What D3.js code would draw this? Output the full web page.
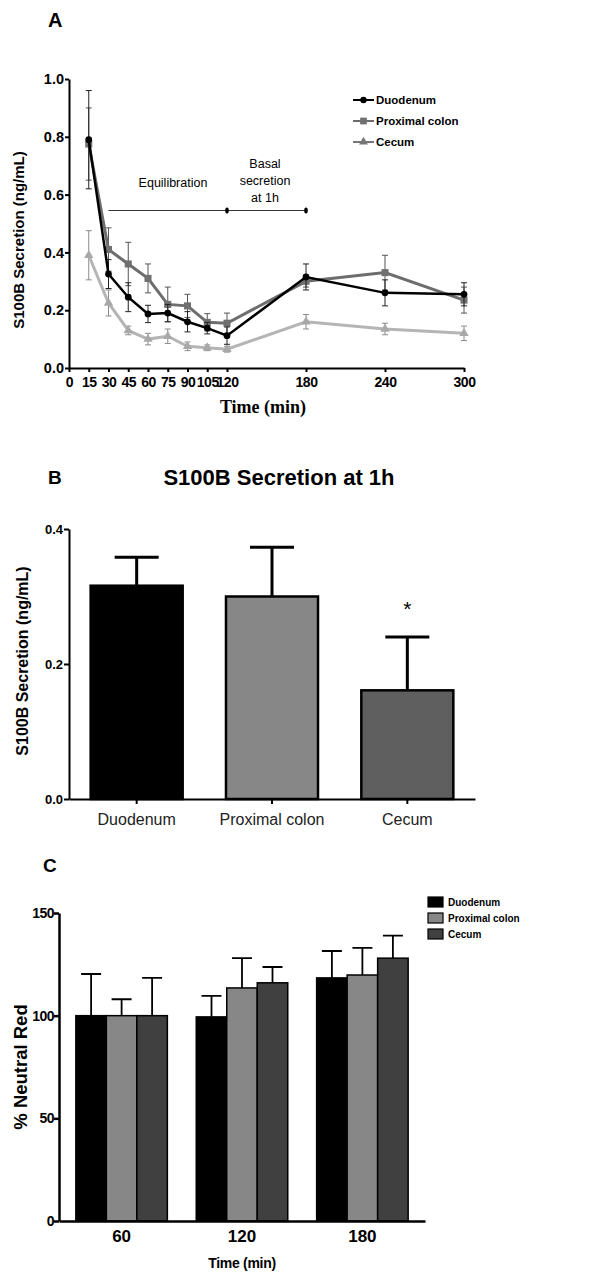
<!DOCTYPE html>
<html>
<head>
<meta charset="utf-8">
<script src="https://cdn.jsdelivr.net/npm/d3@7"></script>
<style>
  body { margin: 0; background: #fff; }
  text { font-family: "Liberation Sans", Arial, sans-serif; }
</style>
</head>
<body>
<div id="chart"></div>
<script>
// panel A: time course
const timeA = [15, 30, 45, 60, 75, 90, 105, 120, 180, 240, 300];
const timeTicksA = [0, 15, 30, 45, 60, 75, 90, 105, 120, 180, 240, 300];
const duodenumA = [0.79, 0.325, 0.245, 0.187, 0.19, 0.16, 0.138, 0.112, 0.315, 0.26, 0.255];
const duodenumErrA = [0.17, 0.05, 0.05, 0.03, 0.03, 0.035, 0.02, 0.03, 0.045, 0.045, 0.04];
const proximalA = [0.775, 0.41, 0.36, 0.31, 0.22, 0.215, 0.158, 0.155, 0.30, 0.33, 0.235];
const proximalErrA = [0.125, 0.075, 0.075, 0.05, 0.06, 0.04, 0.03, 0.035, 0.02, 0.06, 0.045];
const cecumA = [0.39, 0.225, 0.13, 0.10, 0.11, 0.075, 0.07, 0.065, 0.16, 0.135, 0.12];
const cecumErrA = [0.085, 0.045, 0.015, 0.02, 0.025, 0.015, 0.01, 0.01, 0.025, 0.02, 0.025];

// panel B: secretion at 1h
const tissues = ["Duodenum", "Proximal colon", "Cecum"];
const secretionB = [0.316, 0.30, 0.161];
const secretionErrB = [0.042, 0.073, 0.079];

// panel C: neutral red
const timeC = ["60", "120", "180"];
const duodenumC = [100, 99.4, 118.4];
const duodenumErrC = [20.3, 10.2, 13.1];
const proximalC = [100, 113.5, 119.8];
const proximalErrC = [8, 14.5, 13.2];
const cecumC = [100, 116, 128];
const cecumErrC = [18.4, 7.7, 11];

const svg = d3.select("#chart")
    .append("svg")
    .attr("width", 590)
    .attr("height", 1282);

function styleAxis(g, width) {
    g.select(".domain").attr("stroke", "#000").attr("stroke-width", width);
    g.selectAll(".tick line").attr("stroke", "#000").attr("stroke-width", width);
}

// ================= A =================
{
    const x = d3.scaleLinear().domain([0, 300]).range([69, 464]);
    const y = d3.scaleLinear().domain([0, 1]).range([368, 79]);
    const gA = svg.append("g");

    gA.append("text").attr("x", 48).attr("y", 27)
        .attr("font-size", 20).attr("font-weight", "bold").text("A");

    gA.append("g")
        .attr("transform", "translate(69,0)")
        .call(d3.axisLeft(y).tickValues([0, 0.2, 0.4, 0.6, 0.8, 1.0]).tickFormat(d3.format(".1f")).tickSize(4).tickSizeOuter(0))
        .call(g => styleAxis(g, 2))
        .call(g => g.selectAll(".tick text").attr("font-size", 14.5).attr("font-weight", "bold").attr("dx", 2));

    gA.append("g")
        .attr("transform", "translate(0,368)")
        .call(d3.axisBottom(x).tickValues(timeTicksA).tickSize(4).tickSizeOuter(0))
        .call(g => styleAxis(g, 2))
        .call(g => g.selectAll(".tick text").attr("font-size", 14).attr("font-weight", "bold").attr("letter-spacing", -0.5).attr("dy", "0.85em"));

    gA.append("text")
        .attr("transform", "translate(24,240) rotate(-90)")
        .attr("text-anchor", "middle").attr("font-size", 15).attr("font-weight", "bold")
        .text("S100B Secretion (ng/mL)");

    gA.append("text").attr("x", 263).attr("y", 413)
        .attr("text-anchor", "middle").attr("font-size", 18).attr("font-weight", "bold")
        .style("font-family", "'Liberation Serif', 'Times New Roman', serif")
        .text("Time (min)");

    // phase annotation
    const ya = y(0.545);
    gA.append("line").attr("x1", x(30)).attr("x2", x(180)).attr("y1", ya).attr("y2", ya)
        .attr("stroke", "#000").attr("stroke-width", 0.8);
    gA.selectAll(".phase-dot").data([120, 180]).join("ellipse")
        .attr("cx", d => x(d)).attr("cy", ya).attr("rx", 1.8).attr("ry", 3).attr("fill", "#000");
    gA.append("text").attr("x", 173).attr("y", 187).attr("text-anchor", "middle")
        .attr("font-size", 12.5).text("Equilibration");
    gA.append("text").attr("x", 265).attr("y", 168).attr("text-anchor", "middle")
        .attr("font-size", 12.5)
        .selectAll("tspan").data(["Basal", "secretion", "at 1h"]).join("tspan")
        .attr("x", 265).attr("dy", (d, i) => i === 0 ? 0 : 17).text(d => d);

    const seriesA = [
        { name: "Cecum", vals: cecumA, errs: cecumErrA, line: "#b5b5b5", mark: "#a8a8a8", err: "#8a8a8a", symbol: d3.symbolTriangle, size: 38, lw: 3 },
        { name: "Proximal colon", vals: proximalA, errs: proximalErrA, line: "#6d6d6d", mark: "#707070", err: "#555", symbol: d3.symbolSquare, size: 50, lw: 3 },
        { name: "Duodenum", vals: duodenumA, errs: duodenumErrA, line: "#000", mark: "#000", err: "#222", symbol: d3.symbolCircle, size: 36, lw: 2.5 }
    ];

    const lineGen = d3.line().x(d => x(d.t)).y(d => y(d.v));

    seriesA.forEach(s => {
        const pts = timeA.map((t, i) => ({ t: t, v: s.vals[i], e: s.errs[i] }));
        const g = gA.append("g");
        // error bars
        g.selectAll(".err").data(pts).join("path")
            .attr("d", d => {
                const cx = x(d.t), y1 = y(d.v + d.e), y0 = y(d.v - d.e);
                return `M${cx},${y0}V${y1}M${cx - 3},${y1}H${cx + 3}M${cx - 3},${y0}H${cx + 3}`;
            })
            .attr("stroke", s.err).attr("stroke-width", 1).attr("fill", "none");
        g.append("path").datum(pts).attr("d", lineGen)
            .attr("fill", "none").attr("stroke", s.line).attr("stroke-width", s.lw);
        g.selectAll(".mk").data(pts).join("path")
            .attr("transform", d => `translate(${x(d.t)},${y(d.v)})`)
            .attr("d", d3.symbol(s.symbol, s.size))
            .attr("fill", s.mark);
    });

    // legend
    const legA = gA.append("g");
    seriesA.slice().reverse().forEach((s, i) => {
        const ly = 100 + i * 21;
        legA.append("line").attr("x1", 353).attr("x2", 374).attr("y1", ly).attr("y2", ly)
            .attr("stroke", s.name === "Cecum" ? "#777" : s.line).attr("stroke-width", 2);
        legA.append("path").attr("transform", `translate(363.5,${ly})`)
            .attr("d", d3.symbol(s.symbol, s.size * 0.9))
            .attr("fill", s.name === "Cecum" ? "#777" : s.mark);
        legA.append("text").attr("x", 376).attr("y", ly + 4)
            .attr("font-size", 11.5).attr("font-weight", "bold").text(s.name);
    });
}

// ================= B =================
{
    const x = d3.scaleBand().domain(tissues).range([69, 475]).paddingInner(0.32).paddingOuter(0.16);
    const y = d3.scaleLinear().domain([0, 0.4]).range([799, 529]);
    const colorsB = ["#000", "#878787", "#5f5f5f"];
    const gB = svg.append("g");

    gB.append("text").attr("x", 48).attr("y", 484)
        .attr("font-size", 19).attr("font-weight", "bold").text("B");
    gB.append("text").attr("x", 279).attr("y", 485).attr("text-anchor", "middle")
        .attr("font-size", 22).attr("font-weight", "bold").text("S100B Secretion at 1h");

    gB.append("text")
        .attr("transform", "translate(28,661) rotate(-90)")
        .attr("text-anchor", "middle").attr("font-size", 16).attr("font-weight", "bold")
        .text("S100B Secretion (ng/mL)");

    const data = tissues.map((t, i) => ({ t: t, v: secretionB[i], e: secretionErrB[i], c: colorsB[i] }));

    // error bars behind the bars
    gB.selectAll(".err").data(data).join("path")
        .attr("d", d => {
            const cx = x(d.t) + x.bandwidth() / 2, yt = y(d.v + d.e);
            return `M${cx},${y(d.v)}V${yt}M${cx - 22},${yt}H${cx + 22}`;
        })
        .attr("stroke", "#000").attr("stroke-width", 3).attr("fill", "none");

    gB.selectAll(".bar").data(data).join("rect")
        .attr("x", d => x(d.t)).attr("width", x.bandwidth())
        .attr("y", d => y(d.v)).attr("height", d => y(0) - y(d.v))
        .attr("fill", d => d.c).attr("stroke", "#000").attr("stroke-width", 2.5);

    gB.append("g")
        .attr("transform", "translate(69,0)")
        .call(d3.axisLeft(y).tickValues([0, 0.2, 0.4]).tickFormat(d3.format(".1f")).tickSize(5).tickSizeOuter(0))
        .call(g => styleAxis(g, 2))
        .call(g => g.selectAll(".tick text").attr("font-size", 13).attr("font-weight", "bold").attr("dx", 2));

    gB.append("g")
        .attr("transform", "translate(0,799)")
        .call(d3.axisBottom(x).tickSize(5).tickSizeOuter(0))
        .call(g => styleAxis(g, 2))
        .call(g => g.selectAll(".tick text").attr("font-size", 16).attr("fill", "#222").attr("y", 26).attr("dy", 0));

    // significance mark
    gB.append("text").attr("x", x("Cecum") + x.bandwidth() / 2).attr("y", 616)
        .attr("text-anchor", "middle").attr("font-size", 21).text("*");
}

// ================= C =================
{
    const x0 = d3.scaleBand().domain(timeC).range([59, 425]).paddingInner(0.24).paddingOuter(0.14);
    const x1 = d3.scaleBand().domain(tissues).range([0, x0.bandwidth()]);
    const y = d3.scaleLinear().domain([0, 150]).range([1221, 913]);
    const colorsC = ["#000", "#878787", "#404040"];
    const valsC = [duodenumC, proximalC, cecumC];
    const errsC = [duodenumErrC, proximalErrC, cecumErrC];
    const gC = svg.append("g");

    gC.append("text").attr("x", 43).attr("y", 872)
        .attr("font-size", 19).attr("font-weight", "bold").text("C");

    const data = [];
    timeC.forEach((t, i) => tissues.forEach((s, j) => {
        data.push({ t: t, s: s, v: valsC[j][i], e: errsC[j][i], c: colorsC[j] });
    }));

    gC.selectAll(".err").data(data).join("path")
        .attr("d", d => {
            const cx = x0(d.t) + x1(d.s) + x1.bandwidth() / 2, yt = y(d.v + d.e);
            return `M${cx},${y(d.v)}V${yt}M${cx - 10},${yt}H${cx + 10}`;
        })
        .attr("stroke", "#000").attr("stroke-width", 1.8).attr("fill", "none");

    gC.selectAll(".bar").data(data).join("rect")
        .attr("x", d => x0(d.t) + x1(d.s)).attr("width", x1.bandwidth())
        .attr("y", d => y(d.v)).attr("height", d => y(0) - y(d.v))
        .attr("fill", d => d.c).attr("stroke", "#000").attr("stroke-width", 1.5);

    gC.append("g")
        .attr("transform", "translate(59,0)")
        .call(d3.axisLeft(y).tickValues([0, 50, 100, 150]).tickSize(5).tickSizeOuter(0))
        .call(g => styleAxis(g, 2.5))
        .call(g => g.selectAll(".tick text").attr("font-size", 14).attr("font-weight", "bold").attr("dx", 3).attr("letter-spacing", -0.5));

    gC.append("g")
        .attr("transform", "translate(0,1221)")
        .call(d3.axisBottom(x0).tickSize(0).tickSizeOuter(0))
        .call(g => styleAxis(g, 2.5))
        .call(g => g.selectAll(".tick text").attr("font-size", 17).attr("font-weight", "bold").attr("dy", "1.05em"));

    gC.append("text")
        .attr("transform", "translate(27,1067) rotate(-90)")
        .attr("text-anchor", "middle").attr("font-size", 18.5).attr("font-weight", "bold")
        .text("% Neutral Red");

    gC.append("text").attr("x", 242).attr("y", 1268).attr("text-anchor", "middle")
        .attr("font-size", 14).attr("font-weight", "bold").attr("letter-spacing", -0.3)
        .text("Time (min)");

    // legend
    tissues.forEach((s, i) => {
        const ly = 902 + i * 16;
        gC.append("rect").attr("x", 428).attr("y", ly - 5).attr("width", 15).attr("height", 10)
            .attr("fill", colorsC[i]).attr("stroke", "#000").attr("stroke-width", 1.2);
        gC.append("text").attr("x", 448).attr("y", ly + 4)
            .attr("font-size", 10).attr("font-weight", "bold").text(s);
    });
}
</script>
</body>
</html>
